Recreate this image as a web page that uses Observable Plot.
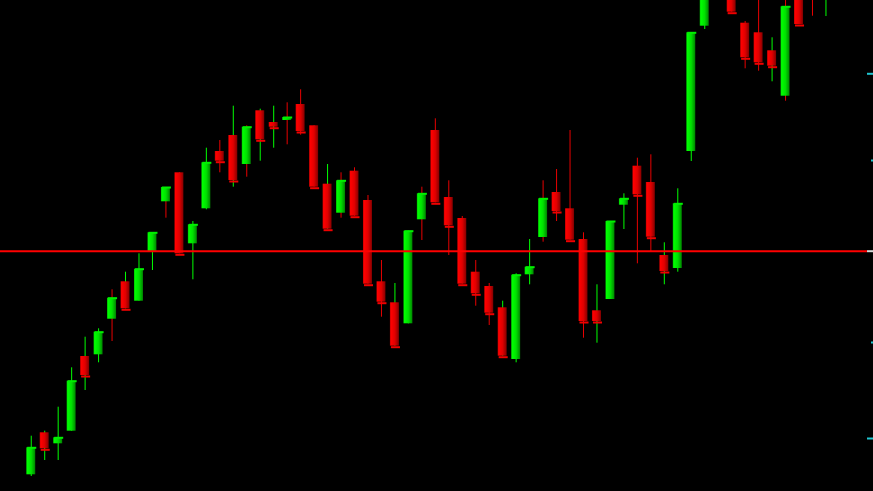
<!DOCTYPE html>
<html><head><meta charset="utf-8">
<script src="https://cdn.jsdelivr.net/npm/d3@7"></script>
<script src="https://cdn.jsdelivr.net/npm/@observablehq/plot@0.6"></script>
<style>html,body{margin:0;padding:0;background:#000;overflow:hidden}</style>
</head><body><div id="chart"></div>
<script>
// OHLC prices (candles 1..60, left to right)
const opens = [101.67,105.87,104.77,106.03,113.50,113.67,117.23,120.97,119.03,123.93,
128.97,131.87,124.77,128.27,134.00,135.60,132.70,138.07,136.90,137.10,
138.70,136.57,130.73,127.83,132.03,129.10,120.97,118.87,116.77,127.17,
136.10,129.40,127.30,121.93,120.50,118.37,113.20,121.67,125.40,129.90,
128.27,125.20,118.07,119.20,128.63,132.53,130.90,123.60,122.30,134.00,
146.53,152.10,151.60,146.83,145.87,144.07,139.53,151.10,152.10,149.90];
const highs = [105.53,106.03,108.43,112.37,115.43,116.27,120.17,121.93,123.77,125.87,
130.40,131.87,127.00,134.33,135.10,138.53,136.57,138.23,138.53,138.87,
140.17,136.57,132.70,131.87,132.37,129.60,123.10,120.80,126.03,130.43,
137.27,131.07,127.50,123.10,120.80,119.03,121.77,125.20,131.07,132.20,
136.10,125.87,120.67,127.00,129.77,133.33,133.67,124.87,130.27,145.87,
151.10,153.10,152.60,147.00,149.60,145.37,149.60,152.10,153.10,153.60];
const lows = [101.50,103.10,103.10,106.03,110.10,112.87,115.00,118.27,119.03,122.10,
127.33,123.77,121.17,128.17,131.87,130.43,131.43,133.03,134.33,134.67,
135.63,130.43,126.23,127.33,127.53,120.73,117.43,114.53,116.77,125.10,
128.87,123.60,120.73,118.53,116.60,113.53,112.87,120.67,124.93,127.00,
125.13,115.33,114.83,119.20,126.20,122.77,123.93,120.67,121.93,133.00,
146.20,149.60,147.93,142.27,142.03,140.97,139.03,146.70,147.53,147.50];
const closes = [104.37,104.27,105.37,111.03,111.60,115.93,119.33,118.27,122.23,125.87,
130.40,123.77,126.67,132.87,133.03,131.10,136.43,135.17,136.43,137.40,
136.00,130.43,126.23,131.07,127.53,120.73,118.93,114.53,126.03,129.77,
128.87,126.57,120.73,119.77,117.83,113.53,121.63,122.43,129.27,128.00,
125.13,117.00,117.00,127.00,129.27,129.67,125.43,122.00,128.77,145.87,
150.60,150.10,147.93,143.37,142.87,142.53,148.47,146.70,149.60,152.60];
// wick colour per candle: G = up colour, R = down colour
const wickColors = ["G","G","G","G","G","G","R","G","G","G",
"R","R","G","G","R","G","R","G","G","R",
"R","R","G","R","R","R","R","G","G","R",
"R","R","R","R","R","G","G","G","R","R",
"R","R","G","G","G","R","R","G","G","G",
"G","R","R","R","R","G","R","R","R","G"];
const levelPrice = [124.03];
const longTicks = [141.77, 105.30];
const shortTicks = [133.10, 114.90];

const GREEN = "#00ff00", RED = "#ff0000";
const data = opens.map((o, k) => ({
  i: k + 1, open: o, high: highs[k], low: lows[k], close: closes[k],
  up: closes[k] >= o, wick: wickColors[k]
}));

const chart = Plot.plot({
  width: 873, height: 491,
  marginTop: 0, marginBottom: 0, marginLeft: 0, marginRight: 0,
  style: {background: "#000"},
  x: {type: "band", domain: data.map(d => d.i), range: [24, 832.2], round: false,
      paddingInner: 0.33, paddingOuter: 0.165, align: 0.5, axis: null},
  y: {domain: [100, 149.1], axis: null},
  color: {type: "identity"},
  marks: [
    Plot.ruleX(data, {x: "i", y1: "low", y2: "high", stroke: d => d.wick === "G" ? GREEN : "#e80000", strokeWidth: 1, clip: true}),
    Plot.barY(data, {x: "i", y1: "open", y2: "close", fill: d => d.up ? "url(#gUp)" : "url(#gDown)", clip: true}),
    Plot.tickY(data.filter(d => d.up), {x: "i", y: "close", stroke: "#00f000", strokeWidth: 2, dx: 1, clip: true}),
    Plot.tickY(data.filter(d => !d.up), {x: "i", y: "close", stroke: "#f00000", strokeWidth: 2, dx: 1, dy: 1, clip: true}),
    Plot.ruleY(levelPrice, {stroke: RED, strokeWidth: 2, insetRight: 6, ariaLabel: "level"}),
    Plot.ruleY(levelPrice, {stroke: "#d8d8d8", strokeWidth: 2, insetLeft: 867}),
    Plot.ruleY(longTicks, {stroke: "#1fc5d0", strokeWidth: 2, insetLeft: 867}),
    Plot.ruleY(shortTicks, {stroke: "#1fc5d0", strokeWidth: 2, insetLeft: 871})
  ]
});

const svg = d3.select(chart);
const defs = svg.insert("defs", ":first-child");
function grad(id, stops) {
  const g = defs.append("linearGradient").attr("id", id)
    .attr("x1", "0").attr("x2", "1").attr("y1", "0").attr("y2", "0");
  stops.forEach(([o, c]) => g.append("stop").attr("offset", o).attr("stop-color", c));
}
grad("gUp", [[0, "#00b400"], [0.12, "#00ff00"], [0.55, "#00e000"], [0.9, "#009a00"], [1, "#007800"]]);
grad("gDown", [[0, "#b40000"], [0.12, "#ff0000"], [0.55, "#e00000"], [0.9, "#9a0000"], [1, "#780000"]]);
svg.select('g[aria-label="level"]').style("mix-blend-mode", "difference");
document.getElementById("chart").appendChild(chart);
</script>
</body></html>
